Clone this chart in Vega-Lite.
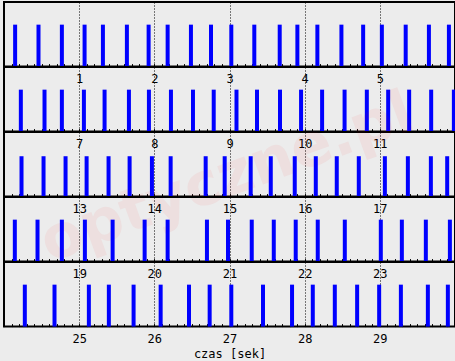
{
  "$schema": "https://vega.github.io/schema/vega-lite/v6.json",
  "background": "#ECECEC",
  "padding": {"left": 2, "top": 1, "right": 0, "bottom": 0},
  "config": {
    "view": {"stroke": "#000000", "strokeWidth": 2, "fill": null}
  },
  "data": {"values": [
    {"t": 0.148, "v": 1}, {"t": 0.459, "v": 1}, {"t": 0.770, "v": 1}, {"t": 1.072, "v": 1}, {"t": 1.316, "v": 1}, {"t": 1.635, "v": 1}, {"t": 1.924, "v": 1}, {"t": 2.177, "v": 1}, {"t": 2.487, "v": 1}, {"t": 2.754, "v": 1}, {"t": 3.024, "v": 1}, {"t": 3.330, "v": 1}, {"t": 3.668, "v": 1}, {"t": 3.903, "v": 1}, {"t": 4.169, "v": 1}, {"t": 4.489, "v": 1}, {"t": 4.778, "v": 1}, {"t": 5.027, "v": 1}, {"t": 5.344, "v": 1}, {"t": 5.653, "v": 1}, {"t": 5.919, "v": 1},
    {"t": 6.224, "v": 1}, {"t": 6.539, "v": 1}, {"t": 6.770, "v": 1}, {"t": 7.063, "v": 1}, {"t": 7.338, "v": 1}, {"t": 7.662, "v": 1}, {"t": 7.928, "v": 1}, {"t": 8.221, "v": 1}, {"t": 8.514, "v": 1}, {"t": 8.790, "v": 1}, {"t": 9.093, "v": 1}, {"t": 9.366, "v": 1}, {"t": 9.672, "v": 1}, {"t": 9.952, "v": 1}, {"t": 10.232, "v": 1}, {"t": 10.531, "v": 1}, {"t": 10.827, "v": 1}, {"t": 11.111, "v": 1}, {"t": 11.390, "v": 1}, {"t": 11.683, "v": 1}, {"t": 11.985, "v": 1},
    {"t": 12.233, "v": 1}, {"t": 12.526, "v": 1}, {"t": 12.819, "v": 1}, {"t": 13.099, "v": 1}, {"t": 13.391, "v": 1}, {"t": 13.671, "v": 1}, {"t": 13.968, "v": 1}, {"t": 14.217, "v": 1}, {"t": 14.683, "v": 1}, {"t": 14.936, "v": 1}, {"t": 15.282, "v": 1}, {"t": 15.549, "v": 1}, {"t": 15.868, "v": 1}, {"t": 16.148, "v": 1}, {"t": 16.427, "v": 1}, {"t": 16.720, "v": 1}, {"t": 17.067, "v": 1}, {"t": 17.373, "v": 1}, {"t": 17.679, "v": 1}, {"t": 17.896, "v": 1},
    {"t": 18.144, "v": 1}, {"t": 18.446, "v": 1}, {"t": 18.770, "v": 1}, {"t": 19.076, "v": 1}, {"t": 19.445, "v": 1}, {"t": 19.871, "v": 1}, {"t": 20.177, "v": 1}, {"t": 20.700, "v": 1}, {"t": 20.980, "v": 1}, {"t": 21.296, "v": 1}, {"t": 21.589, "v": 1}, {"t": 21.881, "v": 1}, {"t": 22.174, "v": 1}, {"t": 22.534, "v": 1}, {"t": 23.013, "v": 1}, {"t": 23.293, "v": 1}, {"t": 23.612, "v": 1}, {"t": 23.932, "v": 1},
    {"t": 24.277, "v": 1}, {"t": 24.672, "v": 1}, {"t": 25.129, "v": 1}, {"t": 25.395, "v": 1}, {"t": 25.724, "v": 1}, {"t": 26.084, "v": 1}, {"t": 26.461, "v": 1}, {"t": 26.736, "v": 1}, {"t": 27.024, "v": 1}, {"t": 27.446, "v": 1}, {"t": 27.832, "v": 1}, {"t": 28.108, "v": 1}, {"t": 28.401, "v": 1}, {"t": 28.698, "v": 1}, {"t": 28.991, "v": 1}, {"t": 29.280, "v": 1}, {"t": 29.639, "v": 1}, {"t": 29.905, "v": 1}
  ]},
  "bounds": "flush",
  "spacing": 0,
  "vconcat": [
    {
      "width": 451, "height": 64.6,
      "transform": [{"filter": {"field": "t", "range": [0, 6]}}],
      "mark": {"type": "rule", "color": "#0000FF", "strokeWidth": 4},
      "encoding": {
        "x": {"field": "t", "type": "quantitative", "scale": {"domain": [0, 6], "nice": false, "zero": false},
          "axis": {"tickCount": 60, "grid": true, "gridColor": "#000000", "gridDash": [1, 2], "gridOpacity": {"condition": {"test": "round(datum.value*10) % 10 === 0", "value": 1}, "value": 0}, "domain": false, "ticks": true, "tickSize": -3, "tickColor": "#000000", "labelExpr": "(round(datum.value*10) % 10 === 0 && round(datum.value) % 6 !== 0) ? format(datum.value, 'd') : ''", "labelFont": "DejaVu Sans Mono", "labelFontSize": 12, "labelColor": "#000000", "labelPadding": 10, "labelOverlap": false, "labelFlush": false, "title": null}},
        "y": {"field": "v", "type": "quantitative", "scale": {"domain": [0, 1.54]}, "axis": null},
        "y2": {"datum": 0}
      }
    },
    {
      "width": 451, "height": 64.6,
      "transform": [{"filter": {"field": "t", "range": [6, 12]}}],
      "mark": {"type": "rule", "color": "#0000FF", "strokeWidth": 4},
      "encoding": {
        "x": {"field": "t", "type": "quantitative", "scale": {"domain": [6, 12], "nice": false, "zero": false},
          "axis": {"tickCount": 60, "grid": true, "gridColor": "#000000", "gridDash": [1, 2], "gridOpacity": {"condition": {"test": "round(datum.value*10) % 10 === 0", "value": 1}, "value": 0}, "domain": false, "ticks": true, "tickSize": -3, "tickColor": "#000000", "labelExpr": "(round(datum.value*10) % 10 === 0 && round(datum.value) % 6 !== 0) ? format(datum.value, 'd') : ''", "labelFont": "DejaVu Sans Mono", "labelFontSize": 12, "labelColor": "#000000", "labelPadding": 10, "labelOverlap": false, "labelFlush": false, "title": null}},
        "y": {"field": "v", "type": "quantitative", "scale": {"domain": [0, 1.54]}, "axis": null},
        "y2": {"datum": 0}
      }
    },
    {
      "width": 451, "height": 64.6,
      "resolve": {"axis": {"x": "independent", "y": "independent"}},
      "layer": [
        {
          "data": {"values": [{"label": "optyczne.pl"}]},
          "mark": {"type": "text", "font": "DejaVu Sans", "fontWeight": "bold", "fontSize": 60, "angle": 340, "color": "#FF0000", "opacity": 0.05, "align": "center", "baseline": "middle"},
          "encoding": {
            "x": {"datum": 14.97, "type": "quantitative", "axis": null},
            "y": {"datum": 0.45, "type": "quantitative", "axis": null},
            "text": {"field": "label"}
          }
        },
        {
          "transform": [{"filter": {"field": "t", "range": [12, 18]}}],
          "mark": {"type": "rule", "color": "#0000FF", "strokeWidth": 4},
          "encoding": {
            "x": {"field": "t", "type": "quantitative", "scale": {"domain": [12, 18], "nice": false, "zero": false},
              "axis": {"tickCount": 60, "grid": true, "gridColor": "#000000", "gridDash": [1, 2], "gridOpacity": {"condition": {"test": "round(datum.value*10) % 10 === 0", "value": 1}, "value": 0}, "domain": false, "ticks": true, "tickSize": -3, "tickColor": "#000000", "labelExpr": "(round(datum.value*10) % 10 === 0 && round(datum.value) % 6 !== 0) ? format(datum.value, 'd') : ''", "labelFont": "DejaVu Sans Mono", "labelFontSize": 12, "labelColor": "#000000", "labelPadding": 10, "labelOverlap": false, "labelFlush": false, "title": null}},
            "y": {"field": "v", "type": "quantitative", "scale": {"domain": [0, 1.54]}, "axis": null},
            "y2": {"datum": 0}
          }
        }
      ]
    },
    {
      "width": 451, "height": 64.6,
      "transform": [{"filter": {"field": "t", "range": [18, 24]}}],
      "mark": {"type": "rule", "color": "#0000FF", "strokeWidth": 4},
      "encoding": {
        "x": {"field": "t", "type": "quantitative", "scale": {"domain": [18, 24], "nice": false, "zero": false},
          "axis": {"tickCount": 60, "grid": true, "gridColor": "#000000", "gridDash": [1, 2], "gridOpacity": {"condition": {"test": "round(datum.value*10) % 10 === 0", "value": 1}, "value": 0}, "domain": false, "ticks": true, "tickSize": -3, "tickColor": "#000000", "labelExpr": "(round(datum.value*10) % 10 === 0 && round(datum.value) % 6 !== 0) ? format(datum.value, 'd') : ''", "labelFont": "DejaVu Sans Mono", "labelFontSize": 12, "labelColor": "#000000", "labelPadding": 10, "labelOverlap": false, "labelFlush": false, "title": null}},
        "y": {"field": "v", "type": "quantitative", "scale": {"domain": [0, 1.54]}, "axis": null},
        "y2": {"datum": 0}
      }
    },
    {
      "width": 451, "height": 64.6,
      "transform": [{"filter": {"field": "t", "range": [24, 30]}}],
      "mark": {"type": "rule", "color": "#0000FF", "strokeWidth": 4},
      "encoding": {
        "x": {"field": "t", "type": "quantitative", "scale": {"domain": [24, 30], "nice": false, "zero": false},
          "axis": {"tickCount": 60, "grid": true, "gridColor": "#000000", "gridDash": [1, 2], "gridOpacity": {"condition": {"test": "round(datum.value*10) % 10 === 0", "value": 1}, "value": 0}, "domain": false, "ticks": true, "tickSize": -3, "tickColor": "#000000", "labelExpr": "(round(datum.value*10) % 10 === 0 && round(datum.value) % 6 !== 0) ? format(datum.value, 'd') : ''", "labelFont": "DejaVu Sans Mono", "labelFontSize": 12, "labelColor": "#000000", "labelPadding": 10, "labelOverlap": false, "labelFlush": false, "title": "czas [sek]", "titleFont": "DejaVu Sans Mono", "titleFontSize": 12, "titleFontWeight": "normal", "titleColor": "#000000", "titlePadding": 4}},
        "y": {"field": "v", "type": "quantitative", "scale": {"domain": [0, 1.54]}, "axis": null},
        "y2": {"datum": 0}
      }
    }
  ]
}
